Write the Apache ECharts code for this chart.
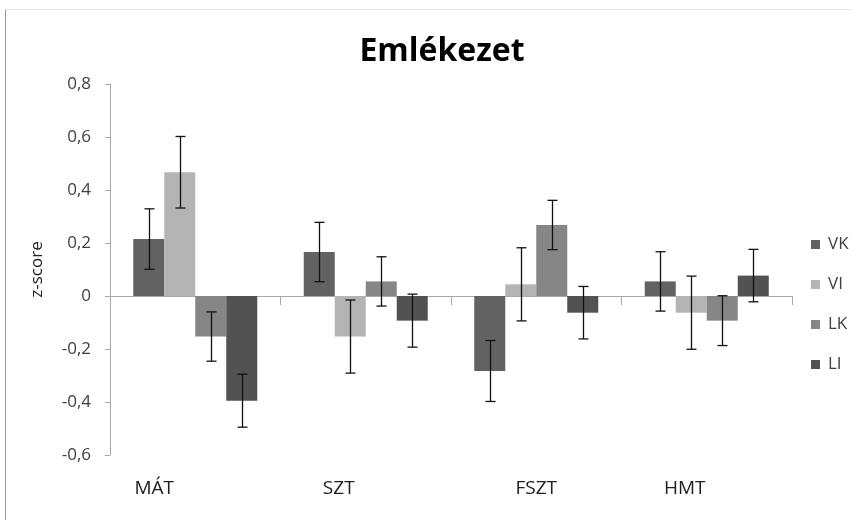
<!DOCTYPE html>
<html>
<head>
<meta charset="utf-8">
<script src="https://cdn.jsdelivr.net/npm/echarts@6/dist/echarts.min.js"></script>
<style>
  html, body { margin: 0; padding: 0; background: #ffffff; }
  #chart { width: 852px; height: 520px; }
</style>
</head>
<body>
<div id="chart"></div>
<script>
// Emlékezet – z-score means with error bars per test and group
const categories = ['MÁT', 'SZT', 'FSZT', 'HMT'];
const seriesNames = ['VK', 'VI', 'LK', 'LI'];

const vkValues = [0.215, 0.166, -0.283, 0.055];
const viValues = [0.467, -0.153, 0.044, -0.063];
const lkValues = [-0.153, 0.055, 0.268, -0.093];
const liValues = [-0.395, -0.093, -0.063, 0.077];

const vkErrors = [0.114, 0.112, 0.115, 0.112];
const viErrors = [0.135, 0.138, 0.138, 0.138];
const lkErrors = [0.093, 0.093, 0.093, 0.094];
const liErrors = [0.100, 0.100, 0.099, 0.099];

const yTicks = { min: -0.6, max: 0.8, step: 0.2 };

const values = [vkValues, viValues, lkValues, liValues];
const errors = [vkErrors, viErrors, lkErrors, liErrors];
const colors = ['#626262', '#b4b4b4', '#868686', '#525252'];

const BAR_W = 31;
const chart = echarts.init(document.getElementById('chart'), null, { renderer: 'canvas' });

// shift of each bottom label from its category centre (px)
const labelShift = { 'MÁT': 82, 'SZT': 54, 'FSZT': 0, 'HMT': 44 };

const barSeries = seriesNames.map((name, i) => ({
  name,
  type: 'bar',
  xAxisIndex: 0,
  data: values[i],
  barWidth: BAR_W,
  barGap: '0%',
  itemStyle: { color: colors[i] },
  emphasis: { disabled: true },
  z: 2
}));

const errorSeries = seriesNames.map((name, i) => ({
  type: 'custom',
  xAxisIndex: 0,
  data: values[i].map((v, k) => [k, v - errors[i][k], v + errors[i][k]]),
  z: 5,
  silent: true,
  renderItem(params, api) {
    const off = (i - 1.5) * BAR_W;
    const lo = api.coord([api.value(0), api.value(1)]);
    const hi = api.coord([api.value(0), api.value(2)]);
    const x = Math.round(lo[0] + off) + 0.5;
    const cap = 5;
    const st = { stroke: '#111111', lineWidth: 1.3 };
    return {
      type: 'group',
      children: [
        { type: 'line', shape: { x1: x, y1: hi[1], x2: x, y2: lo[1] }, style: st },
        { type: 'line', shape: { x1: x - cap, y1: hi[1], x2: x + cap, y2: hi[1] }, style: st },
        { type: 'line', shape: { x1: x - cap, y1: lo[1], x2: x + cap, y2: lo[1] }, style: st }
      ]
    };
  }
}));

const option = {
  backgroundColor: '#ffffff',
  animation: false,
  textStyle: { fontFamily: 'Open Sans' },
  title: {
    text: 'Emlékezet',
    left: 437,
    top: 31,
    textAlign: 'center',
    textStyle: { fontFamily: 'Open Sans', fontWeight: 700, fontSize: 32, color: '#000000' }
  },
  legend: {
    orient: 'vertical',
    left: 806,
    top: 231,
    itemWidth: 9,
    itemHeight: 9,
    itemGap: 23,
    icon: 'rect',
    data: seriesNames,
    selectedMode: false,
    textStyle: { fontFamily: 'Open Sans', fontSize: 17, color: '#404040', padding: [0, 0, 0, 3] }
  },
  grid: { left: 110, right: 60, top: 84, bottom: 65 },
  xAxis: [
    {
      type: 'category',
      data: categories,
      axisLine: { onZero: true, lineStyle: { color: '#a8a8a8', width: 1 } },
      axisTick: { show: true, length: 9, lineStyle: { color: '#a8a8a8' } },
      axisLabel: { show: false },
      splitLine: { show: false }
    },
    {
      type: 'category',
      data: categories,
      position: 'bottom',
      axisLine: { show: false },
      axisTick: { show: false },
      axisLabel: {
        margin: 24,
        fontFamily: 'Open Sans',
        fontSize: 19,
        color: '#202020',
        formatter: (v) => '{' + (labelShift[v] ? 's' + labelShift[v] : 'n') + '|' + v + '}',
        rich: {
          n: { fontFamily: 'Open Sans', fontSize: 19, color: '#202020' },
          s82: { fontFamily: 'Open Sans', fontSize: 19, color: '#202020', padding: [0, 82, 0, 0] },
          s54: { fontFamily: 'Open Sans', fontSize: 19, color: '#202020', padding: [0, 54, 0, 0] },
          s44: { fontFamily: 'Open Sans', fontSize: 19, color: '#202020', padding: [0, 44, 0, 0] }
        }
      },
      splitLine: { show: false }
    }
  ],
  yAxis: {
    type: 'value',
    min: yTicks.min,
    max: yTicks.max,
    interval: yTicks.step,
    name: 'z-score',
    nameLocation: 'middle',
    nameRotate: 90,
    nameGap: 64,
    nameTextStyle: { fontFamily: 'Open Sans', fontSize: 17, color: '#202020' },
    axisLine: { show: true, lineStyle: { color: '#a8a8a8', width: 1 } },
    axisTick: { show: true, length: 5, lineStyle: { color: '#a8a8a8' } },
    splitLine: { show: false },
    axisLabel: {
      margin: 19,
      fontFamily: 'Open Sans',
      fontSize: 17,
      color: '#404040',
      formatter: (v) => {
        const r = Math.round(v * 10) / 10;
        return r === 0 ? '0' : r.toFixed(1).replace('.', ',');
      }
    }
  },
  graphic: [
    { type: 'line', shape: { x1: 5.5, y1: 9.5, x2: 852, y2: 9.5 }, style: { stroke: '#e4e4e4', lineWidth: 1 } },
    { type: 'line', shape: { x1: 5.5, y1: 9.5, x2: 5.5, y2: 520 }, style: { stroke: '#9c9c9c', lineWidth: 1 } }
  ],
  series: [...barSeries, ...errorSeries]
};

chart.setOption(option);
</script>
</body>
</html>
